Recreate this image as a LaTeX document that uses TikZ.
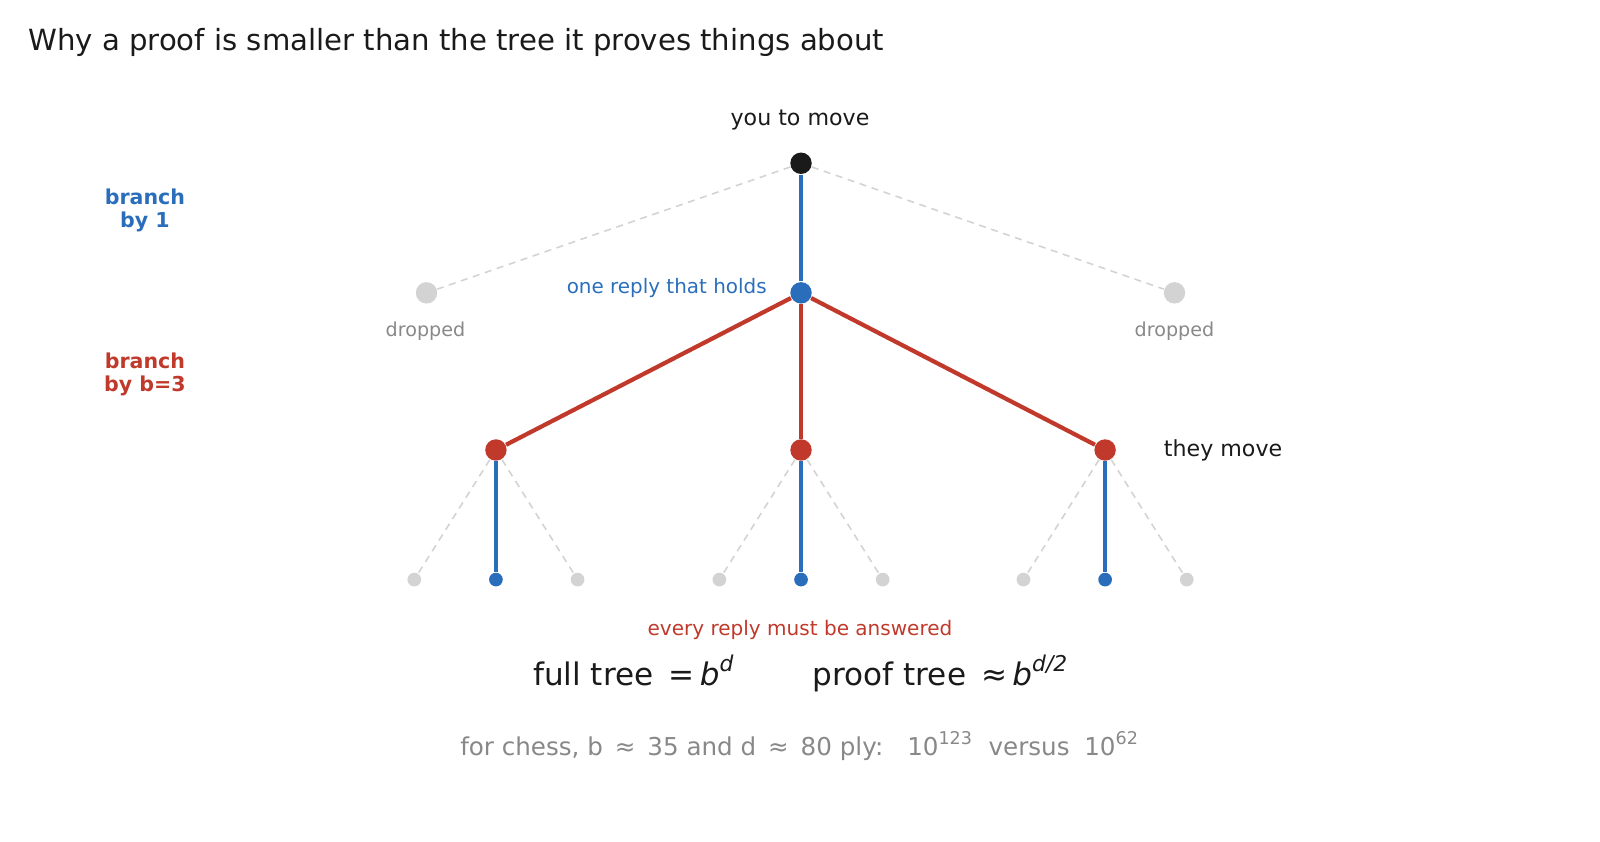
\documentclass[tikz,border=0pt]{standalone}
\usepackage{fontspec}
\setmainfont{DejaVu Sans}
\usepackage{tikz}
\usetikzlibrary{positioning,calc}
\definecolor{pblue}{HTML}{2A6EBB}
\definecolor{pred}{HTML}{C0392B}
\definecolor{pink}{HTML}{1A1A1A}
\definecolor{pgray}{HTML}{D3D3D3}
\definecolor{ptext}{HTML}{888888}
\begin{document}
\begin{tikzpicture}[x=0.010204cm,y=-0.010204cm,
    dot/.style={circle,fill=#1,inner sep=0pt,minimum size=6.1pt},
    leaf/.style={circle,fill=#1,inner sep=0pt,minimum size=3.9pt},
    kept/.style={line width=1.2pt,draw=#1},
    cut/.style={draw=pgray,line width=0.45pt,dash pattern=on 2pt off 1.6pt},
    lbl/.style={font=\fontsize{6.3}{7.5}\selectfont,text=pink,inner sep=0pt}]
    \useasboundingbox (0,0) rectangle (1568,825);
    \node[anchor=west,font=\fontsize{8.3}{9}\selectfont,text=pink,inner sep=0pt] (title) at (27,42) {Why a proof is smaller than the tree it proves things about};
    % knoten
    \node[dot=pink] (r) at (785,160) {};
    \node[dot=pgray] (g1) at (418,287) {};
    \node[dot=pblue] (b) at (785,287) {};
    \node[dot=pgray] (g2) at (1151,287) {};
    \node[dot=pred] (t1) at (486,441) {};
    \node[dot=pred] (t2) at (785,441) {};
    \node[dot=pred] (t3) at (1083,441) {};
    \foreach \i/\x in {1/486,2/785,3/1083} {
        \node[leaf=pgray] (l\i a) at (\x-80,568) {};
        \node[leaf=pblue] (l\i b) at (\x,568) {};
        \node[leaf=pgray] (l\i c) at (\x+80,568) {};
    }
    % kanten
    \draw[cut] (r) -- (g1);
    \draw[cut] (r) -- (g2);
    \draw[kept=pblue] (r) -- (b);
    \foreach \i in {1,2,3} {
        \draw[kept=pred] (b) -- (t\i);
        \draw[cut] (t\i) -- (l\i a);
        \draw[cut] (t\i) -- (l\i c);
        \draw[kept=pblue] (t\i) -- (l\i b);
    }
    % beschriftung
    \node[lbl] (you) at (784,118) {you to move};
    \node[lbl,anchor=east,text=pblue,font=\fontsize{5.67}{7}\selectfont] (holds) at (752,282) {one reply that holds};
    \node[lbl,text=ptext,font=\fontsize{5.45}{6.5}\selectfont] (d1) at (417,325) {dropped};
    \node[lbl,text=ptext,font=\fontsize{5.45}{6.5}\selectfont] (d2) at (1151,325) {dropped};
    \node[lbl,anchor=west] (they) at (1140,441) {they move};
    \node[lbl,text=pblue,font=\bfseries\fontsize{5.85}{6.5}\selectfont,align=center] (br1) at (142,206) {branch\\by 1};
    \node[lbl,text=pred,font=\bfseries\fontsize{5.85}{6.5}\selectfont,align=center] (br3) at (142,367) {branch\\by b=3};
    \node[lbl,text=pred,font=\fontsize{5.7}{7}\selectfont] (every) at (784,617) {every reply must be answered};
    \node[lbl,font=\fontsize{8.85}{9}\selectfont] (full) at (785,660) {full tree \,{=}\,\textit{b}\textsuperscript{\textit{d}}\hspace{2.5em}proof tree \,≈\,\textit{b}\textsuperscript{\textit{d/2}}};
    \node[lbl,text=ptext,font=\fontsize{7}{8}\selectfont] (chess) at (784,731) {for chess, b \,≈\, 35 and d \,≈\, 80 ply:\hspace{0.55em} 10\textsuperscript{123}\hspace{0.6em}versus\hspace{0.6em}10\textsuperscript{62}};
\end{tikzpicture}
\end{document}
